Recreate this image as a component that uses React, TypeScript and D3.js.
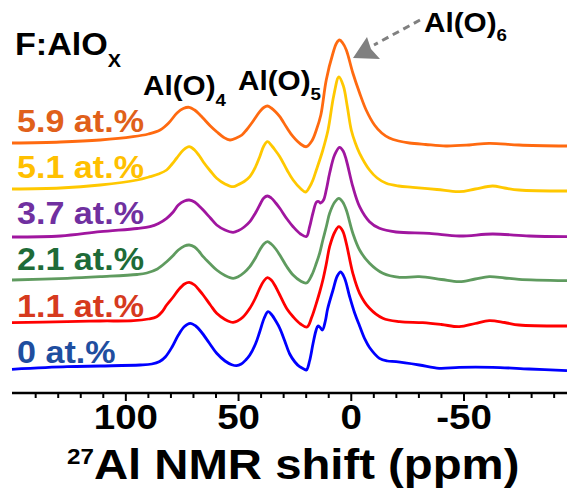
import React from 'react';
import * as d3 from 'd3';

const W = 567;
const H = 489;

// 27Al MAS NMR spectra: [chemical shift (ppm), intensity (a.u.)]
const spec00: [number, number][] = [
  [150.5, 1.7], [126, 4.3], [111.4, 5], [93.7, 6], [88.5, 7], [85, 9.5], [82.5, 14], [79.5, 24],
  [76.7, 36], [74, 44.5], [71.5, 47.7], [69, 45], [66.5, 39], [63, 28], [59.7, 17.7], [56, 10],
  [53, 6.3], [50.9, 5.3], [48.8, 7], [46.8, 11], [45, 16], [42.5, 27], [40.6, 39.3], [38.6, 53],
  [36.9, 59.3], [35.2, 56], [33.5, 50], [31.7, 42.7], [29.5, 30], [27.3, 17], [25, 9], [22.9, 4.3],
  [21, 2], [19.9, 1], [18.5, 10], [17, 27], [15.7, 40], [14.8, 45], [13.8, 43.5], [12.8, 41],
  [11.5, 50], [10.5, 62], [8.1, 81], [6.2, 95], [4.7, 99], [3, 93], [0.8, 75], [-1.5, 58],
  [-3.7, 45], [-6, 32], [-8.1, 23.5], [-12.5, 12.7], [-16, 10], [-19.9, 9.3], [-30.2, 6],
  [-39, 2.7], [-47.9, 3.7], [-62.7, 3.7], [-78.9, 2], [-95.7, 0.3],
];
const spec11: [number, number][] = [
  [150.5, 2.3], [126, 3.3], [111.4, 4], [96.6, 4.3], [90, 6], [86.3, 8.3], [84, 13], [81.9, 20],
  [79, 28], [76.7, 35], [74, 41], [71.9, 42.7], [69.5, 40], [67.5, 35], [65.7, 30], [62.5, 20],
  [59.7, 11.7], [56, 5.5], [53.5, 3], [52.4, 2.7], [50.5, 4], [48, 8], [45, 16.7], [42.5, 27],
  [40.6, 36.7], [38.8, 44], [37.2, 47.3], [35.5, 45], [33.5, 38], [31.7, 30], [28.5, 16],
  [25.8, 8.3], [22.5, 1], [19.6, -2], [17.5, 8], [15.5, 21.7], [14, 33], [12.6, 45], [11, 62],
  [9.6, 78.3], [7.3, 93], [5.5, 98.3], [3.8, 94], [2.2, 81.7], [-0.7, 51.7], [-3.7, 31.7],
  [-8.1, 16.7], [-14, 6.7], [-21.4, 3.3], [-31.7, 2.3], [-40, 0.5], [-47.9, -1.7], [-55, 1.5],
  [-61.2, 4.3], [-68, 2.5], [-74.4, 0], [-95.7, -1],
];
const spec21: [number, number][] = [
  [150.5, 1], [126, 2.7], [111.4, 4.3], [95, 6.5], [90.7, 8], [86, 12], [81.9, 19.3], [79, 25.5],
  [76.7, 31], [74, 35], [71.9, 36], [69.5, 34], [67.5, 29.5], [65.7, 24.3], [62.5, 17], [59.7, 11],
  [56, 5.5], [52.4, 2.7], [50, 4.5], [47.5, 8.5], [45, 14.3], [42.5, 23], [40.6, 31], [38.8, 37],
  [37.2, 39.3], [35.5, 37], [33.5, 32], [31.7, 26], [28.5, 14], [25.8, 6], [22.5, 0], [19.9, -2],
  [17.5, 6], [15.5, 17.7], [14, 28], [12.6, 41], [11, 55], [9.6, 67.7], [7.3, 79], [5.5, 82.7],
  [3.8, 79], [2.2, 71], [-0.7, 47.7], [-3.7, 31], [-8.1, 17.7], [-14, 7.7], [-21.4, 3.7],
  [-30.2, 4.3], [-40, 1.5], [-47.9, -0.7], [-55, 2], [-61.2, 4.3], [-68, 3], [-74.4, 1.7],
  [-95.7, 0.3],
];
const spec37: [number, number][] = [
  [150.5, 0], [129, 1], [111.4, 5.3], [95, 8.5], [89.3, 10.3], [85.5, 13.5], [81.9, 18.7], [79, 25],
  [76.7, 32], [74, 36], [71.9, 37], [69.5, 35], [67.5, 31], [65.7, 27], [62.5, 19], [59.7, 12],
  [56, 7], [52.4, 4.7], [50, 6.5], [47.5, 10], [45, 15.3], [42.5, 24], [40.6, 32], [38.8, 39],
  [37.2, 41], [35.5, 39], [33.5, 34], [31.7, 28.7], [28.5, 18], [25.8, 10.3], [22.5, 3],
  [19.9, 0.5], [18.5, 10], [17, 24], [15.4, 35], [14.4, 35.5], [13.6, 34], [12.3, 37], [11, 48],
  [9.6, 63.7], [7.4, 82], [5.2, 89.7], [3.6, 86], [2.2, 77], [-0.7, 50.3], [-3.7, 30.3],
  [-8.1, 15.3], [-12.5, 8.7], [-19.9, 5], [-34.6, 3.7], [-47.9, 1], [-62.7, 3], [-78.9, 1],
  [-95.7, 0.3],
];
const spec51: [number, number][] = [
  [150.5, 2], [129, 3], [111.4, 6], [95, 11], [89.3, 14.3], [85.5, 17], [81.9, 21], [79.5, 27],
  [77.4, 33], [74.5, 41], [71.9, 44.3], [69.5, 41], [67.5, 35.5], [65.7, 29.3], [62.5, 20],
  [59.7, 12.7], [56, 7], [52.4, 4.3], [50, 6.5], [47.5, 9.5], [45, 14.3], [42.5, 24], [40.6, 34.3],
  [38.8, 45], [37.2, 49.3], [35.2, 45], [33.5, 40], [31.7, 34.3], [28.5, 21], [25.8, 11],
  [22.5, 2.5], [20.2, -1], [18.5, 4], [17, 11], [15.5, 21], [14, 31], [12.6, 41], [10.3, 61],
  [7.8, 95], [5.5, 114], [3.5, 105], [1.8, 85], [0, 61], [-1.8, 48], [-3.7, 37.7], [-8.1, 21],
  [-11.5, 13], [-15.5, 7.7], [-21, 5], [-27.3, 3.7], [-38, 1.5], [-47.9, -0.7], [-55, 2],
  [-62.7, 5], [-68, 3], [-74.4, 1], [-95.7, 0],
];
const spec59: [number, number][] = [
  [150.5, 3], [129, 4], [111.4, 6], [96.8, 9.3], [90, 12], [84.8, 16], [81, 23], [77.3, 33],
  [74.5, 37.5], [71.9, 38.7], [69.5, 36], [67.5, 32], [65.8, 28], [62.5, 20], [59.7, 14.3],
  [56.5, 8.5], [53.8, 6], [51, 8], [48.5, 11], [46.5, 16], [43.5, 25], [40.6, 34.3], [38.8, 38.5],
  [37.2, 40], [35.5, 38], [33.5, 34], [31.7, 29.3], [28.5, 18], [25.8, 9.3], [22.5, 2],
  [19.9, -0.7], [17.5, 5], [15.5, 16], [13.5, 31], [11.1, 66], [8.1, 93], [6.5, 103], [5.2, 106],
  [3.8, 103], [2.2, 96], [-0.7, 73], [-3.7, 53], [-6.6, 36], [-10.3, 21], [-13.5, 13], [-16.9, 8],
  [-21, 5], [-25.8, 3], [-33, 1.5], [-42, 0], [-52.3, 1], [-61.2, 2.7], [-74.4, 1], [-95.7, 0],
];

const spectra = [spec00, spec11, spec21, spec37, spec51, spec59];
const sampleLabels = ['0 at.%', '1.1 at.%', '2.1 at.%', '3.7 at.%', '5.1 at.%', '5.9 at.%'];
// vertical stacking offset of each trace (a.u.)
const stackOffset = [0, 46, 90, 134, 180, 225];

const majorTicks = [100, 50, 0, -50];
const minorTicks = [140, 130, 120, 110, 90, 80, 70, 60, 40, 30, 20, 10, -10, -20, -30, -40, -60, -70, -80, -90];

const lineColors = ['#0000ff', '#ff0000', '#5f9b5f', '#a0169f', '#ffc800', '#ff6a10'];
const labelColors = ['#1f4e9f', '#d63a1e', '#1e6b38', '#7030a0', '#ffc000', '#e0601a'];
// baseline of each sample label
const labelBaseline = [363, 317, 270, 224, 178, 132];

const FONT = '"Liberation Sans", Arial, Helvetica, sans-serif';
const SX = 1.1;

const x = d3.scaleLinear().domain([150.5, -95.7]).range([12, 567]);
const y = d3.scaleLinear().domain([0, 100]).range([371, 271]);
const axisY = 393;

function Label(props: {
  x: number; y: number; size: number; fill?: string; anchor?: string; children: React.ReactNode;
}) {
  return (
    <text
      transform={`translate(${props.x},${props.y}) scale(${SX},1)`}
      fontFamily={FONT}
      fontWeight="bold"
      fontSize={props.size}
      fill={props.fill ?? '#000'}
      textAnchor={props.anchor ?? 'start'}
    >
      {props.children}
    </text>
  );
}

export default function App() {
  const paths = spectra.map((s, i) =>
    d3
      .line<[number, number]>()
      .x((d) => x(d[0]))
      .y((d) => y(d[1] + stackOffset[i]))
      .curve(d3.curveCatmullRom.alpha(0.5))(s) as string
  );

  return (
    <svg
      width={W}
      height={H}
      viewBox={`0 0 ${W} ${H}`}
      style={{ position: 'absolute', left: 0, top: 0, background: '#fff' }}
    >
      {/* spectra */}
      {paths.map((p, i) => (
        <path key={i} d={p} fill="none" stroke={lineColors[i]} strokeWidth={2.8} strokeLinejoin="round" />
      ))}

      {/* sample labels */}
      {sampleLabels.map((t, i) => (
        <Label key={t} x={17} y={labelBaseline[i]} size={31} fill={labelColors[i]}>
          {t}
        </Label>
      ))}

      {/* x axis */}
      <line x1={x(150.5)} x2={x(-95.7)} y1={axisY} y2={axisY} stroke="#000" strokeWidth={2.5} />
      {minorTicks.map((t) => (
        <line key={t} x1={x(t)} x2={x(t)} y1={axisY} y2={axisY + 5} stroke="#000" strokeWidth={2} />
      ))}
      {majorTicks.map((t) => (
        <g key={t}>
          <line x1={x(t)} x2={x(t)} y1={axisY} y2={axisY + 8} stroke="#000" strokeWidth={2} />
          <Label x={x(t)} y={429} size={35} anchor="middle">
            {t}
          </Label>
        </g>
      ))}
      <Label x={67} y={479} size={43}>
        <tspan fontSize={22} dy={-15}>27</tspan>
        <tspan dy={15}>Al NMR shift (ppm)</tspan>
      </Label>

      {/* annotations */}
      <Label x={15} y={55} size={31}>
        F:AlO<tspan fontSize={18} dy={12}>X</tspan>
      </Label>
      <Label x={143} y={95} size={27}>
        Al(O)<tspan fontSize={17} dy={11}>4</tspan>
      </Label>
      <Label x={238} y={90} size={27}>
        Al(O)<tspan fontSize={17} dy={10}>5</tspan>
      </Label>
      <Label x={424} y={32} size={27}>
        Al(O)<tspan fontSize={17} dy={9}>6</tspan>
      </Label>
      <line x1={420} y1={20} x2={374} y2={45} stroke="#808080" strokeWidth={3} strokeDasharray="7 5" />
      <polygon points="353,58 367,37 371,49 380,59" fill="#808080" />
    </svg>
  );
}
